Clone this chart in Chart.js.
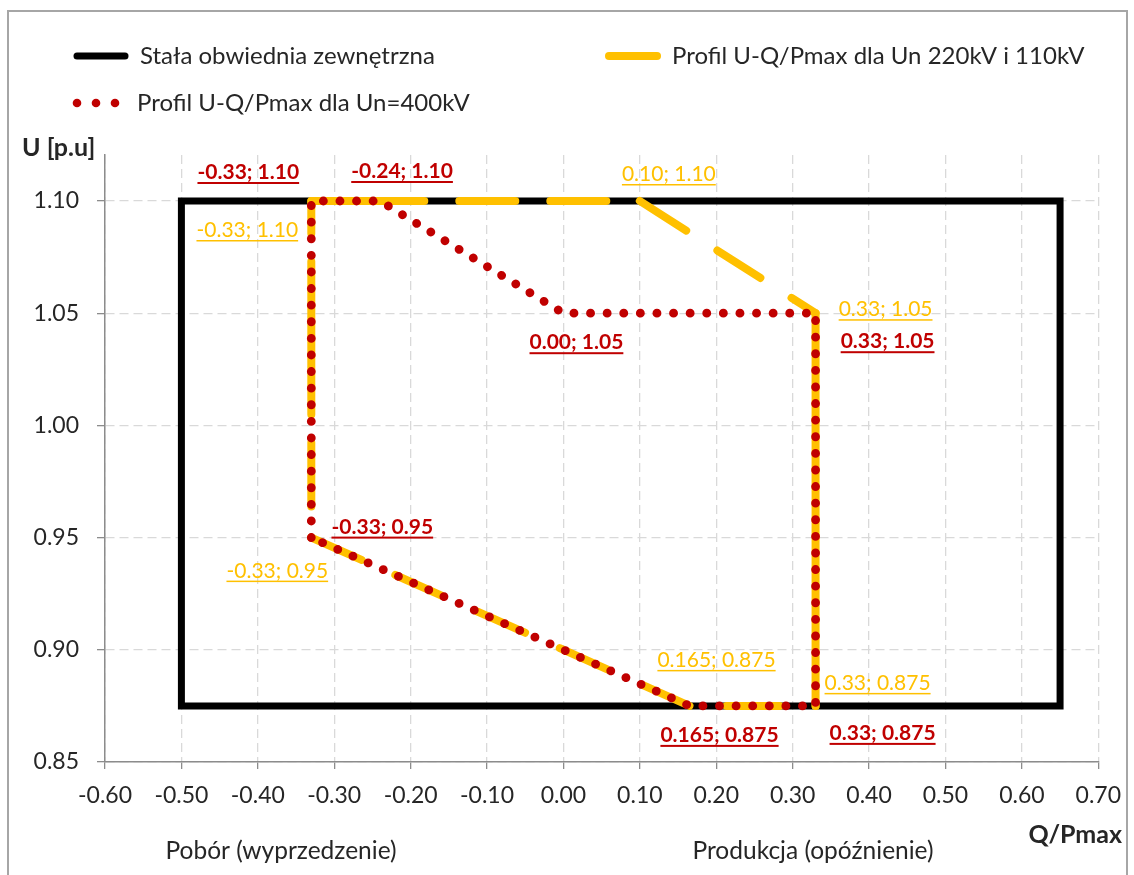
<!DOCTYPE html>
<html><head><meta charset="utf-8">
<script src="https://cdn.jsdelivr.net/npm/chart.js@4/dist/chart.umd.min.js"></script>
<style>
html,body{margin:0;padding:0;background:#fff;}
#wrap{position:relative;width:1134px;height:875px;overflow:hidden;background:#fff;}
#frame{position:absolute;left:7px;top:10px;width:1121px;height:900px;border:2px solid #A6A6A6;box-sizing:border-box;pointer-events:none;}
canvas{position:absolute;left:0;top:0;}
</style></head><body>
<div id="wrap"><canvas id="c" width="1134" height="875"></canvas><div id="frame"></div></div>
<script>
// ---- data ----
const xTicks = [-0.60,-0.50,-0.40,-0.30,-0.20,-0.10,0.00,0.10,0.20,0.30,0.40,0.50,0.60,0.70];
const yTicks = [0.85,0.90,0.95,1.00,1.05,1.10];
const envelopeQ = [-0.50,-0.50,0.65,0.65,-0.50];
const envelopeU = [0.875,1.10,1.10,0.875,0.875];
const profile220Q = [-0.33,-0.33,0.10,0.33,0.33,0.165,-0.33];
const profile220U = [0.95,1.10,1.10,1.05,0.875,0.875,0.95];
const profile400Q = [-0.33,-0.33,-0.24,0.00,0.33,0.33,0.165,-0.33];
const profile400U = [0.95,1.10,1.10,1.05,1.05,0.875,0.875,0.95];
const labels220 = ['-0.33; 0.95','-0.33; 1.10','0.10; 1.10','0.33; 1.05','0.33; 0.875','0.165; 0.875',''];
const labels400 = ['-0.33; 0.95','-0.33; 1.10','-0.24; 1.10','0.00; 1.05','0.33; 1.05','0.33; 0.875','0.165; 0.875',''];
const seriesNames = ['Stała obwiednia zewnętrzna','Profil U-Q/Pmax dla Un 220kV i 110kV','Profil U-Q/Pmax dla Un=400kV'];
const yTitle = 'U [p.u]';
const xTitle = 'Q/Pmax';
const leftNote = 'Pobór (wyprzedzenie)';
const rightNote = 'Produkcja (opóźnienie)';

// ---- styles ----
const FONT = 'Lato, "Open Sans", sans-serif';
const BLACK = '#000000', YELLOW = '#FFC000', RED = '#C00000', TXT = '#262626';
const off220 = [[-34,40],[-64,36],[29,-20],[70,3],[62,-16],[27,-39]];
const off400 = [[71,-4],[-63,-22],[22,-23],[13,36],[72,35],[67,34],[30,36]];
// dash patterns of the long-dash line, one per segment (line style only)
const dash220 = [
  [0.1, 30.9, 64, 28, 153, 28, 1000],
  [113, 35, 56, 35, 56, 35, 1000],
  [55, 37, 51, 37, 1000],
  [115, 39, 84, 60, 1000],
  [0, 36, 53, 1000],
  [51, 39, 52, 38, 52, 40, 50, 37, 1000]
];

const pts = (qs, us) => qs.map((q, i) => ({x: q, y: us[i]}));

const labelPlugin = {
  id: 'labelsAndLegend',
  afterDatasetsDraw(chart) {
    const ctx = chart.ctx, xs = chart.scales.x, ys = chart.scales.y;
    const drawLab = (qs, us, texts, offs, color, bold) => {
      ctx.save();
      ctx.font = (bold ? 'bold ' : '') + '21px ' + FONT;
      ctx.fillStyle = color;
      ctx.textAlign = 'center';
      ctx.textBaseline = 'alphabetic';
      texts.forEach((t, i) => {
        if (!t || !offs[i]) return;
        const px = xs.getPixelForValue(qs[i]) + offs[i][0];
        const py = ys.getPixelForValue(us[i]) + offs[i][1];
        ctx.fillText(t, px, py);
        const w = ctx.measureText(t).width;
        ctx.fillRect(px - w / 2, py + 3, w, bold ? 2 : 1.5);
      });
      ctx.restore();
    };
    drawLab(profile220Q, profile220U, labels220, off220, YELLOW, false);
    drawLab(profile400Q, profile400U, labels400, off400, RED, true);
  },
  afterDraw(chart) {
    const ctx = chart.ctx;
    ctx.save();
    // legend
    ctx.font = '24px ' + FONT;
    ctx.fillStyle = TXT;
    ctx.textBaseline = 'middle';
    ctx.textAlign = 'left';
    ctx.lineCap = 'round';
    ctx.strokeStyle = BLACK; ctx.lineWidth = 7;
    ctx.beginPath(); ctx.moveTo(77, 56); ctx.lineTo(125, 56); ctx.stroke();
    ctx.fillText(seriesNames[0], 140, 56);
    ctx.strokeStyle = YELLOW; ctx.lineWidth = 8;
    ctx.beginPath(); ctx.moveTo(609, 56); ctx.lineTo(657, 56); ctx.stroke();
    ctx.fillText(seriesNames[1], 672, 56);
    ctx.fillStyle = RED;
    [77, 96, 115].forEach(x => { ctx.beginPath(); ctx.arc(x, 103, 4.3, 0, Math.PI * 2); ctx.fill(); });
    ctx.fillStyle = TXT;
    ctx.fillText(seriesNames[2], 137, 103);
    // axis titles
    ctx.font = 'bold 25px ' + FONT;
    ctx.fillText(yTitle, 22, 148);
    ctx.textAlign = 'right';
    ctx.fillText(xTitle, 1122, 835);
    ctx.font = '24.5px ' + FONT;
    ctx.textAlign = 'center';
    ctx.fillText(leftNote, 281, 851);
    ctx.fillText(rightNote, 813, 851);
    ctx.restore();
  }
};

new Chart(document.getElementById('c'), {
  type: 'scatter',
  data: {
    datasets: [
      {label: seriesNames[0], data: pts(envelopeQ, envelopeU), showLine: true, borderColor: BLACK, borderWidth: 7,
       borderJoinStyle: 'miter', borderCapStyle: 'square', pointRadius: 0, order: 3},
      {label: seriesNames[1], data: pts(profile220Q, profile220U), showLine: true, borderColor: YELLOW, borderWidth: 8,
       borderJoinStyle: 'round', borderCapStyle: 'round', pointRadius: 0, order: 2,
       segment: {borderDash: c => dash220[c.p0DataIndex] || [57, 34]}},
      {label: seriesNames[2], data: pts(profile400Q, profile400U), showLine: true, borderColor: RED, borderWidth: 8.8,
       borderJoinStyle: 'round', borderCapStyle: 'round', borderDash: [0.1, 16.5], pointRadius: 0, order: 1}
    ]
  },
  options: {
    responsive: false,
    devicePixelRatio: 1,
    animation: false,
    events: [],
    layout: {padding: {top: 155, right: 30, left: 0, bottom: 0}},
    plugins: {legend: {display: false}, tooltip: {enabled: false}},
    scales: {
      x: {
        type: 'linear', min: -0.6, max: 0.7,
        afterBuildTicks: s => { s.ticks = xTicks.map(v => ({value: v})); },
        afterFit: s => { s.height = 113; },
        ticks: {callback: v => Number(v).toFixed(2), font: {family: FONT, size: 23}, color: TXT, padding: 13, maxRotation: 0, autoSkip: false},
        grid: {color: '#D9D9D9', lineWidth: 1.3, tickColor: '#8C8C8C', tickLength: 7, tickWidth: 1.3},
        border: {color: '#8C8C8C', width: 1.5, dash: [9, 5]}
      },
      y: {
        type: 'linear', min: 0.85, max: 1.1205,
        afterBuildTicks: s => { s.ticks = yTicks.map(v => ({value: v})); },
        afterFit: s => { s.width = 105; },
        ticks: {callback: v => Number(v).toFixed(2), font: {family: FONT, size: 23}, color: TXT, padding: 18, autoSkip: false},
        grid: {color: '#D9D9D9', lineWidth: 1.3, tickColor: '#8C8C8C', tickLength: 8, tickWidth: 1.3},
        border: {color: '#8C8C8C', width: 1.5, dash: [9, 5]}
      }
    }
  },
  plugins: [labelPlugin]
});
</script>
</body></html>
